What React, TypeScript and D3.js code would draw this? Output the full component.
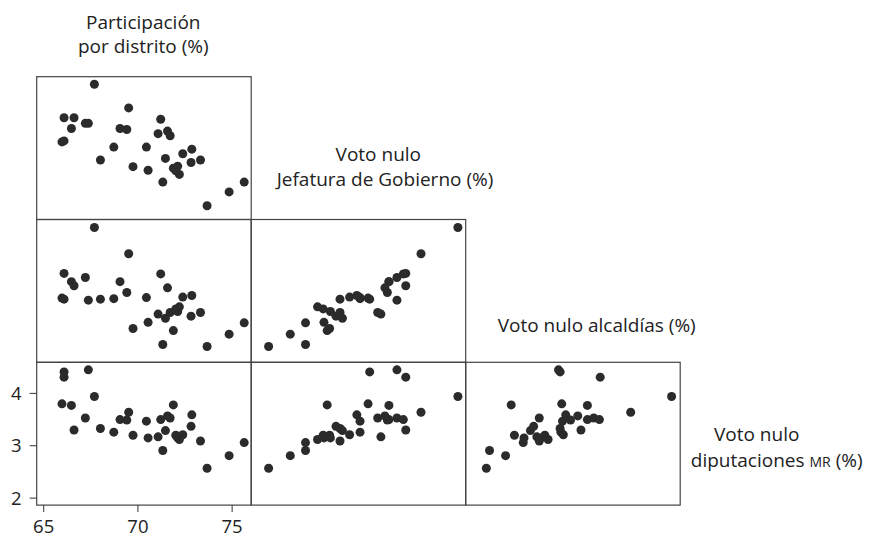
import * as d3 from 'd3';

// one entry per district (same order in every array)
const participacion = [
  66.08, 66.08, 65.97, 67.37, 67.69, 66.47, 66.61, 67.21, 68.01, 68.72, 69.05,
  69.41, 69.51, 69.74, 70.45, 70.54, 71.07, 71.21, 71.32, 71.46, 71.57, 71.71,
  71.88, 72.01, 72.11, 72.2, 72.38, 72.86, 72.82, 73.32, 73.67, 74.84, 75.64
];
const nuloJefatura = [
  3.34, 2.89, 2.87, 3.23, 3.99, 3.13, 3.34, 3.23, 2.52, 2.77, 3.13,
  3.11, 3.53, 2.39, 2.77, 2.32, 3.03, 3.31, 2.09, 2.55, 3.08, 2.99,
  2.36, 2.31, 2.4, 2.24, 2.64, 2.73, 2.47, 2.52, 1.63, 1.9, 2.09
];
const nuloAlcaldias = [
  3.09, 2.59, 2.61, 2.57, 3.98, 2.93, 2.85, 3.01, 2.59, 2.6, 2.93,
  2.72, 3.47, 2.02, 2.62, 2.14, 2.3, 3.08, 1.71, 2.22, 2.81, 2.33,
  1.98, 2.4, 2.35, 2.44, 2.63, 2.66, 2.26, 2.33, 1.67, 1.91, 2.13
];
const nuloDiputaciones = [
  4.31, 4.41, 3.8, 4.45, 3.94, 3.77, 3.3, 3.53, 3.33, 3.26, 3.5,
  3.49, 3.64, 3.2, 3.47, 3.15, 3.17, 3.5, 2.91, 3.29, 3.57, 3.53,
  3.78, 3.2, 3.15, 3.12, 3.21, 3.59, 3.37, 3.09, 2.57, 2.81, 3.06
];

const partTicks = [65, 70, 75];
const dipTicks = [2, 3, 4];

const variables = [
  { values: participacion, domain: [65, 75.64] },
  { values: nuloJefatura, domain: [1.5, 4.0] },
  { values: nuloAlcaldias, domain: [1.5, 4.0] },
  { values: nuloDiputaciones, domain: [2, 4.46] }
];

const W = 871;
const H = 537;
const colLeft = [36.7, 251.2, 465.7];
const rowTop = [76.7, 219.5, 362.3];
const cellW = 214.5;
const cellH = 142.8;
const pad = 7;
const font = '"Open Sans", "Noto Sans", sans-serif';
const ink = '#2b2b2b';

function xScale(v: number, col: number) {
  return d3
    .scaleLinear()
    .domain(variables[v].domain)
    .range([colLeft[col] + pad, colLeft[col] + cellW - pad]);
}
function yScale(v: number, row: number) {
  return d3
    .scaleLinear()
    .domain(variables[v].domain)
    .range([rowTop[row] + cellH - pad, rowTop[row] + pad]);
}

export default function App() {
  const panels: JSX.Element[] = [];
  // row r (0..2) holds variable r+1 on y, columns 0..r hold variables 0..r on x
  for (let r = 0; r < 3; r++) {
    for (let c = 0; c <= r; c++) {
      const xs = xScale(c, c);
      const ys = yScale(r + 1, r);
      const xv = variables[c].values;
      const yv = variables[r + 1].values;
      panels.push(
        <g key={`${r}-${c}`}>
          <rect
            x={colLeft[c]}
            y={rowTop[r]}
            width={cellW}
            height={cellH}
            fill="none"
            stroke="#444"
            strokeWidth={1.2}
          />
          {xv.map((d, i) => (
            <circle key={i} cx={xs(d)} cy={ys(yv[i])} r={4.5} fill={ink} />
          ))}
        </g>
      );
    }
  }

  const xb = xScale(0, 0);
  const yl = yScale(3, 2);
  const axisY = rowTop[2] + cellH;

  return (
    <svg
      width={W}
      height={H}
      style={{ position: 'absolute', left: 0, top: 0, background: '#fff' }}
      fontFamily={font}
      fill="#222"
    >
      {panels}
      {partTicks.map((t) => (
        <g key={`xt${t}`}>
          <line x1={xb(t)} x2={xb(t)} y1={axisY} y2={axisY + 7} stroke="#333" />
          <text x={xb(t)} y={533} textAnchor="middle" fontSize={18.5}>
            {t}
          </text>
        </g>
      ))}
      {dipTicks.map((t) => (
        <g key={`yt${t}`}>
          <line x1={colLeft[0] - 7} x2={colLeft[0]} y1={yl(t)} y2={yl(t)} stroke="#333" />
          <text x={21.5} y={yl(t) + 6.5} textAnchor="end" fontSize={18.5}>
            {t}
          </text>
        </g>
      ))}
      <g fontSize={19}>
        <text x={143.3} y={29} textAnchor="middle">Participación</text>
        <text x={143.3} y={53} textAnchor="middle">por distrito (%)</text>
        <text x={378.3} y={161} textAnchor="middle">Voto nulo</text>
        <text x={385} y={186} textAnchor="middle">Jefatura de Gobierno (%)</text>
        <text x={596.7} y={331.5} textAnchor="middle">Voto nulo alcaldías (%)</text>
        <text x={756.7} y={441} textAnchor="middle">Voto nulo</text>
        <text x={776.7} y={467} textAnchor="middle">
          diputaciones <tspan fontSize={14}>MR</tspan> (%)
        </text>
      </g>
    </svg>
  );
}
